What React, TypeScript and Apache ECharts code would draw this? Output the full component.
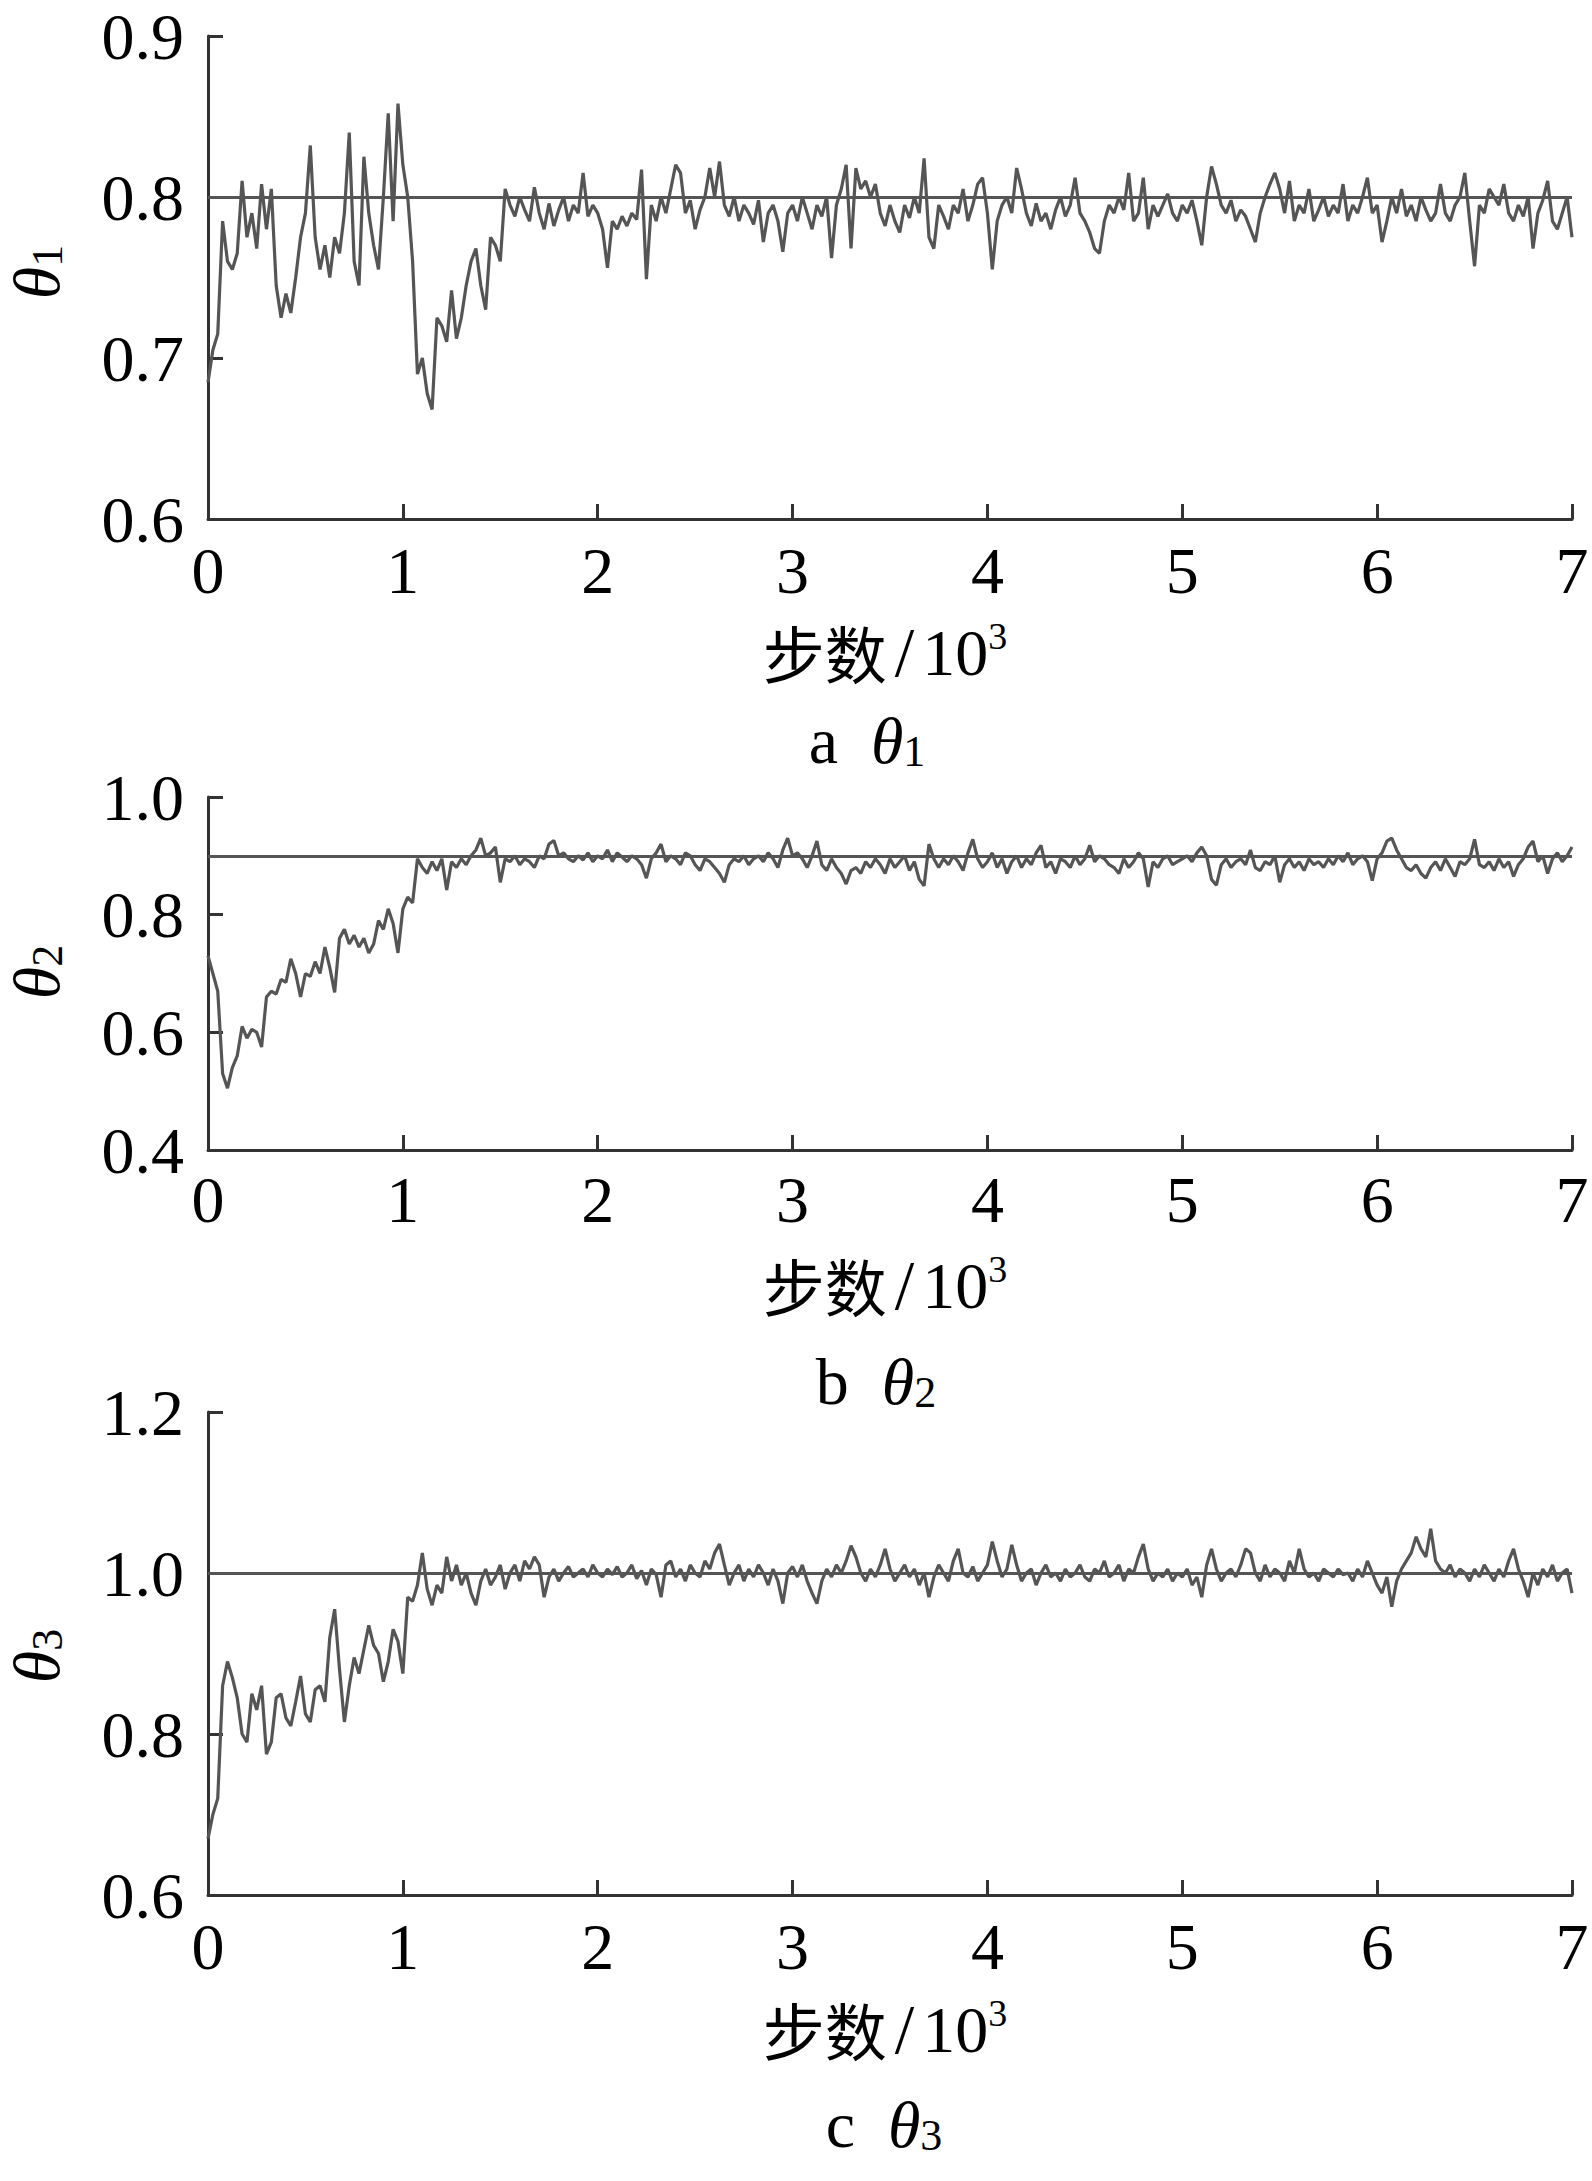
import React, { useEffect, useRef } from "react";
import * as echarts from "echarts";

// step spacing of the samples below (in 10^3 steps)
const STEP = 0.025;
const xTicks = [0, 1, 2, 3, 4, 5, 6, 7];

const refValues = [0.8, 0.9, 1.0];

const theta1 = [
  0.685,0.705,0.715,0.785,0.760,0.755,0.765,0.810,0.775,0.790,0.768,0.808,0.780,0.805,0.745,0.725,0.740,0.728,0.750,0.775,
  0.790,0.832,0.775,0.755,0.770,0.750,0.775,0.765,0.790,0.840,0.760,0.745,0.825,0.790,0.770,0.755,0.800,0.852,0.785,0.858,
  0.820,0.800,0.760,0.690,0.700,0.678,0.668,0.725,0.720,0.710,0.742,0.712,0.725,0.745,0.760,0.768,0.745,0.730,0.775,0.770,
  0.760,0.805,0.795,0.788,0.800,0.792,0.785,0.806,0.790,0.780,0.796,0.782,0.792,0.800,0.785,0.795,0.790,0.815,0.788,0.795,
  0.790,0.780,0.756,0.785,0.780,0.788,0.782,0.790,0.786,0.817,0.749,0.795,0.785,0.800,0.790,0.805,0.820,0.815,0.790,0.798,
  0.780,0.792,0.800,0.818,0.800,0.822,0.795,0.788,0.800,0.785,0.795,0.790,0.783,0.798,0.772,0.790,0.795,0.785,0.766,0.790,
  0.795,0.785,0.800,0.790,0.780,0.795,0.788,0.800,0.762,0.795,0.805,0.820,0.768,0.818,0.805,0.810,0.800,0.808,0.790,0.782,
  0.795,0.785,0.778,0.795,0.787,0.800,0.790,0.824,0.775,0.768,0.795,0.788,0.780,0.795,0.790,0.805,0.785,0.795,0.808,0.812,
  0.790,0.755,0.785,0.795,0.800,0.790,0.818,0.805,0.790,0.782,0.796,0.785,0.790,0.780,0.792,0.800,0.788,0.795,0.812,0.790,
  0.785,0.778,0.768,0.765,0.785,0.795,0.790,0.800,0.792,0.815,0.785,0.790,0.812,0.780,0.795,0.788,0.795,0.802,0.790,0.785,
  0.795,0.790,0.798,0.785,0.770,0.800,0.819,0.808,0.795,0.790,0.798,0.785,0.792,0.788,0.780,0.772,0.790,0.800,0.808,0.815,
  0.805,0.790,0.810,0.785,0.795,0.790,0.805,0.785,0.792,0.800,0.788,0.795,0.790,0.808,0.785,0.795,0.790,0.800,0.812,0.790,
  0.795,0.772,0.785,0.800,0.790,0.805,0.788,0.795,0.785,0.800,0.792,0.785,0.790,0.808,0.790,0.785,0.795,0.800,0.815,0.785,
  0.757,0.795,0.790,0.805,0.800,0.795,0.808,0.790,0.785,0.795,0.788,0.800,0.768,0.790,0.798,0.810,0.785,0.780,0.790,0.800,
  0.775,
];

const theta2 = [
  0.730,0.700,0.670,0.530,0.505,0.540,0.560,0.610,0.590,0.605,0.600,0.575,0.660,0.670,0.665,0.690,0.685,0.725,0.700,0.660,
  0.700,0.695,0.720,0.700,0.745,0.710,0.668,0.760,0.775,0.750,0.765,0.745,0.760,0.735,0.750,0.790,0.775,0.810,0.785,0.735,
  0.810,0.830,0.820,0.895,0.880,0.870,0.890,0.875,0.895,0.842,0.890,0.880,0.895,0.885,0.900,0.910,0.930,0.900,0.905,0.915,
  0.855,0.895,0.890,0.900,0.885,0.895,0.890,0.880,0.900,0.895,0.920,0.926,0.900,0.905,0.895,0.890,0.900,0.893,0.905,0.890,
  0.900,0.895,0.910,0.890,0.905,0.898,0.890,0.900,0.895,0.885,0.862,0.895,0.905,0.920,0.890,0.900,0.895,0.885,0.905,0.900,
  0.885,0.875,0.895,0.890,0.880,0.870,0.855,0.885,0.895,0.890,0.900,0.885,0.895,0.900,0.890,0.905,0.895,0.880,0.910,0.930,
  0.900,0.905,0.895,0.880,0.900,0.925,0.885,0.875,0.895,0.880,0.870,0.852,0.875,0.880,0.870,0.890,0.880,0.895,0.885,0.870,
  0.895,0.880,0.890,0.900,0.875,0.890,0.860,0.849,0.920,0.895,0.880,0.895,0.885,0.900,0.890,0.875,0.905,0.928,0.895,0.880,
  0.890,0.905,0.880,0.895,0.870,0.890,0.900,0.880,0.895,0.885,0.905,0.918,0.880,0.890,0.870,0.895,0.890,0.880,0.900,0.885,
  0.895,0.918,0.890,0.900,0.895,0.885,0.880,0.870,0.895,0.880,0.890,0.905,0.895,0.847,0.890,0.880,0.895,0.900,0.885,0.890,
  0.895,0.900,0.890,0.905,0.915,0.900,0.860,0.850,0.885,0.895,0.880,0.890,0.895,0.885,0.910,0.880,0.875,0.890,0.885,0.900,
  0.855,0.885,0.895,0.880,0.890,0.875,0.895,0.885,0.890,0.880,0.895,0.885,0.900,0.890,0.905,0.885,0.895,0.900,0.890,0.858,
  0.895,0.905,0.925,0.930,0.910,0.895,0.880,0.875,0.885,0.870,0.862,0.880,0.890,0.875,0.895,0.880,0.865,0.890,0.885,0.895,
  0.928,0.885,0.880,0.890,0.875,0.895,0.880,0.890,0.865,0.885,0.895,0.915,0.925,0.890,0.900,0.870,0.895,0.905,0.890,0.900,
  0.915,
];

const theta3 = [
  0.670,0.700,0.720,0.860,0.890,0.870,0.845,0.800,0.790,0.850,0.830,0.860,0.775,0.790,0.845,0.850,0.820,0.810,0.840,0.872,
  0.825,0.815,0.855,0.860,0.840,0.920,0.955,0.880,0.815,0.860,0.895,0.875,0.905,0.935,0.910,0.900,0.865,0.890,0.930,0.915,
  0.875,0.970,0.965,0.985,1.025,0.980,0.960,0.985,0.975,1.020,0.990,1.010,0.985,1.000,0.975,0.960,0.990,1.005,0.985,0.995,
  1.010,0.980,1.000,1.010,0.990,1.015,1.005,1.020,1.010,0.970,0.995,1.005,0.990,1.000,1.008,0.995,1.000,1.005,0.995,1.010,
  1.000,0.995,1.005,0.998,1.008,0.995,1.000,1.010,0.993,1.003,0.985,1.005,0.998,0.970,1.010,1.015,0.995,1.005,0.990,1.010,
  1.000,0.995,1.015,1.005,1.025,1.036,1.010,0.985,1.000,1.010,0.990,1.005,0.995,1.010,1.000,0.985,1.005,0.990,0.962,1.000,
  1.008,0.995,1.010,0.990,0.975,0.962,0.990,1.005,0.995,1.010,1.000,1.015,1.034,1.020,1.000,0.990,1.005,0.995,1.010,1.030,
  1.005,0.990,1.000,1.010,0.995,1.005,0.985,1.000,0.970,0.995,1.010,1.000,0.990,1.015,1.030,1.000,0.995,1.008,0.990,1.000,
  1.010,1.039,1.015,0.995,1.005,1.035,1.010,0.990,1.000,1.005,0.985,1.000,1.010,0.995,1.000,0.990,1.005,0.995,1.000,1.010,
  0.995,0.990,1.005,1.000,1.015,0.995,1.000,1.010,0.990,1.005,1.000,1.020,1.036,1.005,0.990,1.000,0.995,1.005,0.990,1.000,
  0.995,1.005,0.985,0.995,0.970,1.010,1.030,1.005,0.990,1.000,1.005,0.995,1.010,1.030,1.025,1.000,0.990,1.010,0.995,1.005,
  1.000,0.990,1.015,1.000,1.030,1.005,0.995,1.000,0.990,1.005,1.000,0.995,1.005,0.998,1.000,0.990,1.005,0.995,1.015,1.000,
  0.985,0.975,0.995,0.958,0.990,1.005,1.015,1.025,1.045,1.030,1.020,1.055,1.015,1.005,1.000,1.010,0.995,1.005,1.000,0.990,
  1.005,0.995,1.010,1.000,0.990,1.005,0.995,1.015,1.030,1.005,0.990,0.970,1.000,0.985,1.005,0.995,1.010,0.990,1.000,1.005,
  0.975,
];

const yRanges = [
  { min: 0.6, max: 0.9, interval: 0.1 },
  { min: 0.4, max: 1.0, interval: 0.2 },
  { min: 0.6, max: 1.2, interval: 0.2 },
];

const captions = [
  { letter: "a", sub: "1" },
  { letter: "b", sub: "2" },
  { letter: "c", sub: "3" },
];

const xAxisTitle = { cn: "步数", slash: "/", num: "10", sup: "3" };

const SERIF = "Liberation Serif";
const LINE = "#555555";
const AXIS = "#333333";

const panels = [
  { top: 36, height: 483, tickMargin: 18, xlabelY: 652, captionY: 740, captionX: 867, nameY: 272 },
  { top: 797, height: 353, tickMargin: 16, xlabelY: 1285, captionY: 1381, captionX: 876, nameY: 972 },
  { top: 1412, height: 483, tickMargin: 18, xlabelY: 2029, captionY: 2124, captionX: 884, nameY: 1656 },
];

export default function App() {
  const ref = useRef<HTMLDivElement>(null);

  useEffect(() => {
    if (!ref.current) return;
    const chart = echarts.init(ref.current, undefined, { renderer: "svg" });
    const seriesData = [theta1, theta2, theta3];

    const grid = panels.map((p) => ({ left: 208, width: 1364, top: p.top, height: p.height }));

    const xAxis = panels.map((p, i) => ({
      type: "value",
      gridIndex: i,
      min: xTicks[0],
      max: xTicks[xTicks.length - 1],
      interval: 1,
      axisLine: { show: true, lineStyle: { color: AXIS, width: 3 } },
      axisTick: { show: true, inside: true, length: 15, lineStyle: { color: AXIS, width: 3 } },
      axisLabel: {
        fontFamily: SERIF,
        fontSize: 66,
        color: "#000",
        margin: p.tickMargin,
        formatter: (v: number) => String(v),
      },
      splitLine: { show: false },
    }));

    const yAxis = yRanges.map((r, i) => ({
      type: "value",
      gridIndex: i,
      min: r.min,
      max: r.max,
      interval: r.interval,
      axisLine: { show: true, lineStyle: { color: AXIS, width: 3 } },
      axisTick: { show: true, inside: true, length: 15, lineStyle: { color: AXIS, width: 3 } },
      axisLabel: {
        fontFamily: SERIF,
        fontSize: 66,
        color: "#000",
        margin: 24,
        formatter: (v: number) => v.toFixed(1),
      },
      splitLine: { show: false },
    }));

    const series = seriesData.map((arr, i) => ({
      type: "line",
      xAxisIndex: i,
      yAxisIndex: i,
      data: arr.map((v, k) => [k * STEP, v]),
      showSymbol: false,
      symbol: "none",
      lineStyle: { color: LINE, width: 3.2 },
      itemStyle: { color: LINE },
      markLine: {
        silent: true,
        symbol: ["none", "none"],
        label: { show: false },
        lineStyle: { color: LINE, width: 2.8, type: "solid" },
        data: [{ yAxis: refValues[i] }],
      },
    }));

    const rich = {
      cn: { fontFamily: "Noto Sans CJK SC", fontSize: 62, fill: "#000", color: "#000" },
      sl: { fontFamily: SERIF, fontSize: 70, padding: [0, 8, 0, 8], fill: "#000", color: "#000" },
      n: { fontFamily: SERIF, fontSize: 66, fill: "#000", color: "#000" },
      sup: { fontFamily: SERIF, fontSize: 38, verticalAlign: "top", fill: "#000", color: "#000" },
      r: { fontFamily: SERIF, fontSize: 66, fill: "#000", color: "#000" },
      it: { fontFamily: SERIF, fontSize: 66, fontStyle: "italic", fill: "#000", color: "#000" },
      sub: { fontFamily: SERIF, fontSize: 44, verticalAlign: "bottom", fill: "#000", color: "#000" },
    };

    const graphic: any[] = [];
    panels.forEach((p, i) => {
      graphic.push({
        type: "text",
        x: 885,
        y: p.xlabelY,
        style: {
          text: `{cn|${xAxisTitle.cn}}{sl|${xAxisTitle.slash}}{n|${xAxisTitle.num}}{sup|${xAxisTitle.sup}}`,
          rich,
          align: "center",
          verticalAlign: "middle",
          fill: "#000",
        },
      });
      graphic.push({
        type: "text",
        x: p.captionX,
        y: p.captionY,
        style: {
          text: `{r|${captions[i].letter}  }{it|θ}{sub|${captions[i].sub}}`,
          rich,
          align: "center",
          verticalAlign: "middle",
          fill: "#000",
        },
      });
      graphic.push({
        type: "text",
        x: 36,
        y: p.nameY,
        rotation: Math.PI / 2,
        style: {
          text: `{it|θ}{sub|${captions[i].sub}}`,
          rich,
          align: "center",
          verticalAlign: "middle",
          fill: "#000",
        },
      });
    });

    chart.setOption({
      animation: false,
      backgroundColor: "#fff",
      grid,
      xAxis,
      yAxis,
      series,
      graphic,
    } as any);

    return () => chart.dispose();
  }, []);

  return (
    <div
      ref={ref}
      style={{ position: "absolute", left: 0, top: 0, width: 1592, height: 2181, background: "#fff" }}
    />
  );
}
